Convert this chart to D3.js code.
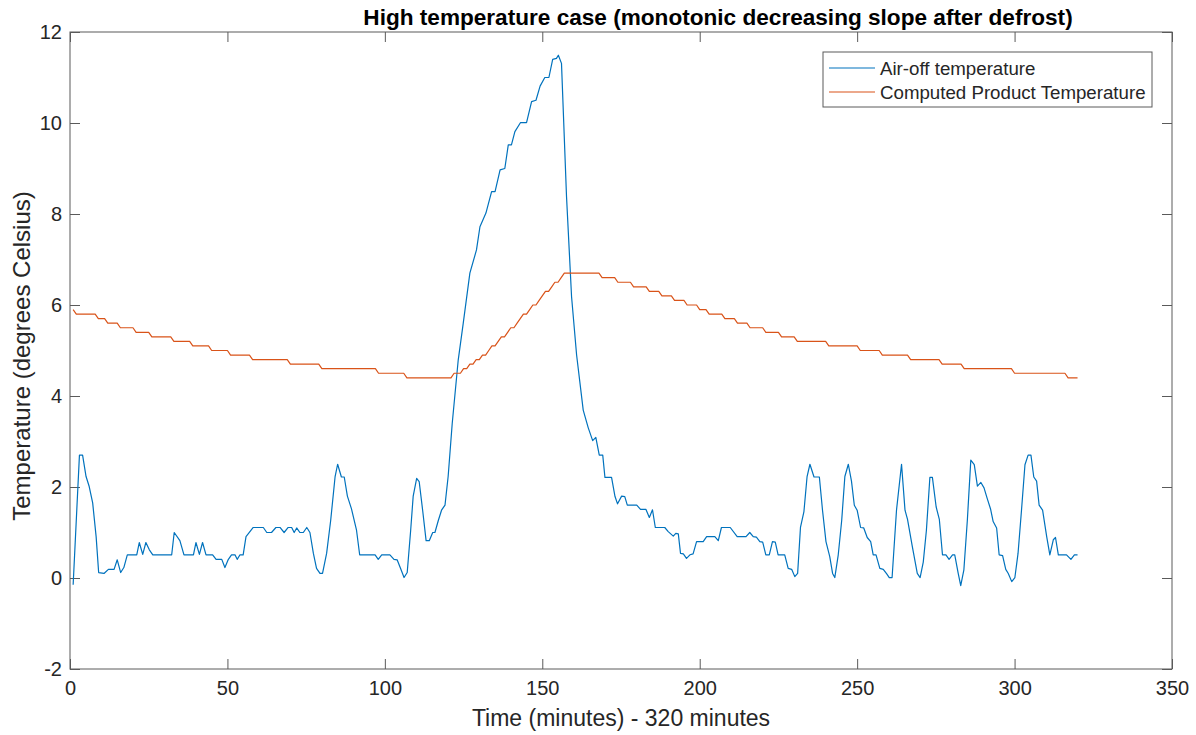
<!DOCTYPE html>
<html>
<head>
<meta charset="utf-8">
<script src="https://cdn.jsdelivr.net/npm/d3@7/dist/d3.min.js"></script>
<style>
  html, body { margin: 0; padding: 0; background: #fff; }
  svg { display: block; font-family: "Liberation Sans", Arial, Helvetica, sans-serif; }
</style>
</head>
<body>
<svg id="chart" width="1196" height="735"></svg>
<script>
// ---- Data ----
const titleText = "High temperature case (monotonic decreasing slope after defrost)";
const xLabelText = "Time (minutes) - 320 minutes";
const yLabelText = "Temperature (degrees Celsius)";
const seriesNames = ["Air-off temperature", "Computed Product Temperature"];
const xTicks = [0, 50, 100, 150, 200, 250, 300, 350];
const yTicks = [-2, 0, 2, 4, 6, 8, 10, 12];

// Air-off temperature: time (min) and value (deg C)
const airTime = [1,3,4,5.1,6.1,7.2,8.3,9.1,10.8,12.2,14,15,16.1,17.1,18.2,21.2,22,23.1,24.1,25.2,26.3,32.3,33.1,34.9,36.2,39.2,40,41.1,42.1,43.2,45.3,46.4,48.2,49.2,50.3,51.3,52.4,53.1,54,55,55.9,58.2,61.4,62.5,64,65.4,66.7,68,69.3,70.4,71.2,72,73,74.1,75.2,76.2,77.3,78.3,79.4,80.2,81.5,82.8,84.2,85,86.2,87.1,88.1,89.4,91,92,96.9,97.9,99,101.6,102.9,103.9,105,106.1,107.1,108.2,109,110.1,110.9,112,113.1,114.1,115.2,115.9,117,118,119.1,120.1,121.4,123.3,124.9,127,129.1,130.2,132.1,133.9,135,136.6,138.1,139.2,140.2,141.3,143.1,145,146.6,148,149.3,150.8,152.1,153.3,154.5,155.1,156.1,157.7,159.3,160.9,163,164.6,166,167,168.1,169.2,169.9,172,173.1,173.9,175.2,176.2,177,180,181.2,182.9,184,185,185.9,188.9,190,191.6,192.4,193.2,193.9,194.8,195.8,196.9,197.9,199,201.1,202.2,204.8,205.9,206.9,209.7,211.9,214.7,215.9,217,218,219.1,220,221,222.1,223.1,224,224.9,227,228.1,229.2,230.2,231.1,232,233.1,234.1,235,236.3,238,239,240.1,241.3,242.2,242.9,244,245.1,246.1,247.2,248.2,249.1,250,251.1,252.1,253.2,254.3,255.1,256,257.2,258.3,259.4,260.2,261.1,262.5,264.1,265.2,266,267.5,269.1,270,271,272,273.1,273.9,275.1,276.1,277.1,278.2,279.2,280.3,281,282.1,282.9,283.9,285,286.1,287.2,288.2,289.3,290.3,291.3,292.4,293.2,294.3,295.1,296.2,297.2,298,299.1,300.1,301.1,302.2,303.3,304.3,305.2,306.1,307,307.8,308.9,310.2,311.2,312.3,313,313.9,316.5,317.9,319,320];
const airTemp = [-0.15,2.7,2.7,2.23,2.01,1.65,0.91,0.12,0.1,0.19,0.19,0.4,0.12,0.23,0.51,0.51,0.78,0.52,0.78,0.62,0.51,0.51,1.0,0.82,0.51,0.51,0.78,0.52,0.78,0.51,0.51,0.41,0.41,0.23,0.41,0.51,0.51,0.41,0.51,0.51,0.91,1.11,1.11,1.0,1.0,1.11,1.11,1.0,1.11,1.11,1.0,1.1,1.0,1.0,1.11,1.0,0.54,0.21,0.1,0.1,0.54,1.27,2.23,2.5,2.22,2.22,1.8,1.52,1.05,0.51,0.51,0.41,0.51,0.51,0.41,0.4,0.21,0.01,0.12,1.05,1.8,2.19,2.12,1.49,0.82,0.82,1.0,1.0,1.27,1.49,1.6,2.23,3.4,4.79,5.6,6.7,7.21,7.72,8.02,8.49,8.49,8.97,9.0,9.52,9.52,9.81,10.01,10.01,10.47,10.5,10.81,11.0,11.0,11.4,11.42,11.49,11.31,8.38,6.18,4.9,3.69,3.3,3.02,3.09,2.7,2.7,2.21,2.21,1.79,1.63,1.8,1.79,1.6,1.6,1.51,1.51,1.33,1.5,1.11,1.11,1.02,0.92,0.98,0.97,0.54,0.53,0.43,0.51,0.53,0.8,0.8,0.91,0.91,0.82,1.11,1.11,0.91,0.91,1.0,0.91,0.9,0.8,0.79,0.51,0.51,0.8,0.79,0.51,0.51,0.21,0.19,0.03,0.1,1.11,1.46,2.23,2.5,2.22,2.22,1.49,0.8,0.47,0.1,0.01,0.51,1.27,2.23,2.5,2.13,1.6,1.49,1.11,1.1,0.89,0.8,0.51,0.51,0.21,0.19,0.09,0.01,0.01,1.49,2.5,1.49,1.29,0.7,0.1,0.01,0.35,1.05,2.21,2.21,1.56,1.29,0.51,0.51,0.41,0.51,0.51,0.1,-0.17,0.18,1.27,2.59,2.49,2.02,2.1,1.98,1.75,1.51,1.24,1.1,0.51,0.49,0.19,0.1,-0.08,0.01,0.54,1.49,2.49,2.7,2.7,2.22,2.13,1.6,1.49,0.91,0.51,0.84,0.89,0.51,0.51,0.41,0.51,0.51];

// Computed product temperature: corner points (time, value)
const prodTime = [1,2,8,9,11,12,15,16,20,21,25,26,32,33,38,39,44,45,50,51,57,58,69,70,79,80,97,98,106,107,121,122,124,125,126,127,128,129,130,131,132,133,134,135,136,137,138,139,140,141,142,143,144,145,146,147,148,149,150,151,152,153,154,155,156,157,168,169,173,174,178,179,183,184,187,188,191,192,195,196,199,200,202,203,207,208,211,212,215,216,220,221,225,226,230,231,240,241,250,251,257,258,266,267,276,277,283,284,299,300,316,317,320];
const prodTemp = [5.9,5.8,5.8,5.7,5.7,5.6,5.6,5.5,5.5,5.4,5.4,5.3,5.3,5.2,5.2,5.1,5.1,5.0,5.0,4.9,4.9,4.8,4.8,4.7,4.7,4.6,4.6,4.5,4.5,4.4,4.4,4.5,4.5,4.6,4.6,4.7,4.7,4.8,4.8,4.9,4.9,5.0,5.1,5.1,5.2,5.3,5.3,5.4,5.5,5.5,5.6,5.7,5.8,5.8,5.9,6.0,6.0,6.1,6.2,6.3,6.3,6.4,6.5,6.5,6.6,6.7,6.7,6.6,6.6,6.5,6.5,6.4,6.4,6.3,6.3,6.2,6.2,6.1,6.1,6.0,6.0,5.9,5.9,5.8,5.8,5.7,5.7,5.6,5.6,5.5,5.5,5.4,5.4,5.3,5.3,5.2,5.2,5.1,5.1,5.0,5.0,4.9,4.9,4.8,4.8,4.7,4.7,4.6,4.6,4.5,4.5,4.4,4.4];

const colors = ["#0072BD", "#D95319"];

(function draw() {
  const svg = d3.select("#chart");
  const mLeft = 70, mRight = 1172, mTop = 32, mBottom = 669;
  const x = d3.scaleLinear().domain([0, 350]).range([mLeft, mRight]);
  const y = d3.scaleLinear().domain([-2, 12]).range([mBottom, mTop]);
  const axisColor = "#262626";
  const boxColor = "#5a5a5a";
  const tickFont = 20;
  const fmt = d => String(d); // plain hyphen-minus, as in the reference

  svg.append("rect")
    .attr("x", mLeft).attr("y", mTop)
    .attr("width", mRight - mLeft).attr("height", mBottom - mTop)
    .attr("fill", "none").attr("stroke", boxColor).attr("stroke-width", 1);

  function styleAxis(g, showText) {
    g.select(".domain").remove();
    g.selectAll(".tick line").attr("stroke", boxColor);
    if (!showText) g.selectAll(".tick text").remove();
    else g.selectAll(".tick text").attr("fill", axisColor).style("font-size", tickFont + "px");
  }

  svg.append("g").attr("transform", `translate(0,${mBottom})`)
    .call(d3.axisBottom(x).tickValues(xTicks).tickFormat(fmt).tickSizeInner(-10).tickSizeOuter(0).tickPadding(12))
    .call(g => styleAxis(g, true));
  svg.append("g").attr("transform", `translate(0,${mTop})`)
    .call(d3.axisTop(x).tickValues(xTicks).tickSizeInner(-10).tickSizeOuter(0))
    .call(g => styleAxis(g, false));
  svg.append("g").attr("transform", `translate(${mLeft},0)`)
    .call(d3.axisLeft(y).tickValues(yTicks).tickFormat(fmt).tickSizeInner(-10).tickSizeOuter(0).tickPadding(8))
    .call(g => styleAxis(g, true));
  svg.append("g").attr("transform", `translate(${mRight},0)`)
    .call(d3.axisRight(y).tickValues(yTicks).tickSizeInner(-10).tickSizeOuter(0))
    .call(g => styleAxis(g, false));

  const line = d3.line().x(d => x(d[0])).y(d => y(d[1]));
  const airData = airTime.map((t, i) => [t, airTemp[i]]);
  const prodData = prodTime.map((t, i) => [t, prodTemp[i]]);

  svg.append("path").datum(airData)
    .attr("d", line).attr("fill", "none")
    .attr("stroke", colors[0]).attr("stroke-width", 1.2).attr("stroke-linejoin", "round");
  svg.append("path").datum(prodData)
    .attr("d", line).attr("fill", "none")
    .attr("stroke", colors[1]).attr("stroke-width", 1.2).attr("stroke-linejoin", "round");

  svg.append("text")
    .attr("x", 718).attr("y", 25)
    .attr("text-anchor", "middle")
    .style("font-size", "22.6px").style("font-weight", "bold")
    .attr("fill", "#000")
    .text(titleText);

  svg.append("text")
    .attr("x", 621).attr("y", 726)
    .attr("text-anchor", "middle")
    .style("font-size", "23px").attr("fill", axisColor)
    .text(xLabelText);

  svg.append("text")
    .attr("transform", `translate(30,356) rotate(-90)`)
    .attr("text-anchor", "middle")
    .style("font-size", "24px").attr("fill", axisColor)
    .text(yLabelText);

  const lg = svg.append("g");
  lg.append("rect")
    .attr("x", 823).attr("y", 52).attr("width", 329).attr("height", 55)
    .attr("fill", "#fff").attr("stroke", boxColor).attr("stroke-width", 1);
  seriesNames.forEach((name, i) => {
    const yy = 68 + i * 24;
    lg.append("line")
      .attr("x1", 829).attr("x2", 875).attr("y1", yy).attr("y2", yy)
      .attr("stroke", colors[i]).attr("stroke-width", 1.2);
    lg.append("text")
      .attr("x", 880).attr("y", yy).attr("dy", "0.35em")
      .style("font-size", "18.7px").attr("fill", axisColor)
      .text(name);
  });
})();
</script>
</body>
</html>
